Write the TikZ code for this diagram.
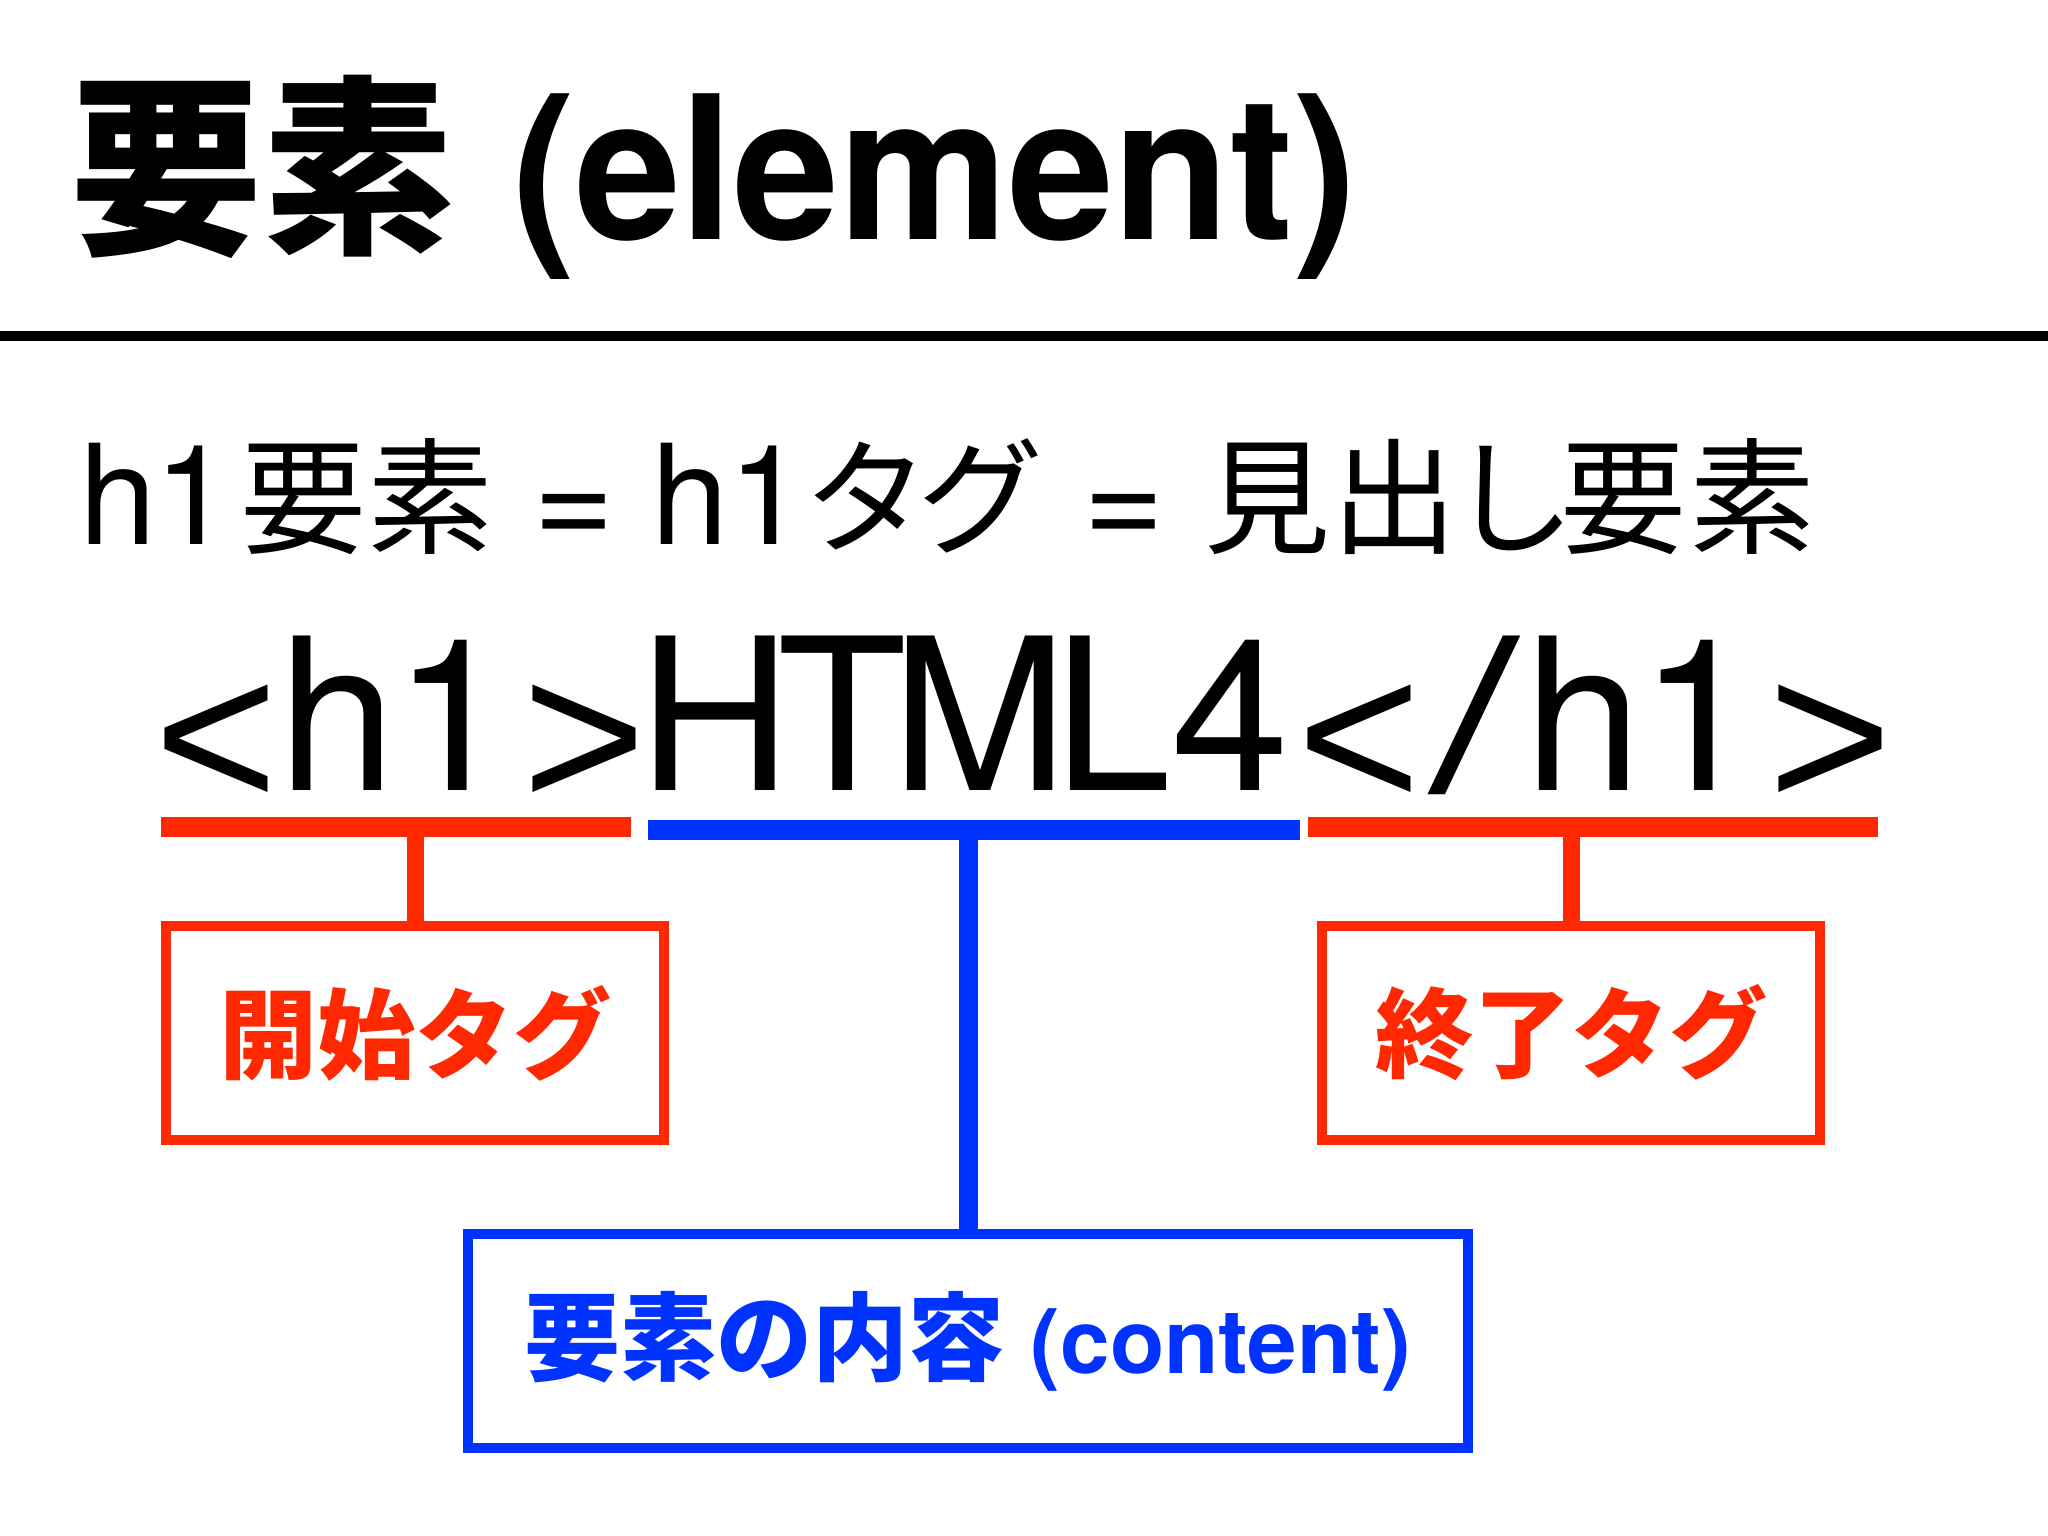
\documentclass[tikz,border=0pt]{standalone}
\usepackage{graphicx}
\usepackage{fontspec}
\setmainfont{TeX Gyre Heros}
\newfontfamily\lib{Liberation Sans}
\newfontfamily\cjk{Noto Sans CJK JP}
\definecolor{tagred}{RGB}{255,40,0}
\definecolor{conblue}{RGB}{0,51,255}
\newcommand\gl[2]{\makebox[0pt][c]{#1}\hspace*{#2pt}}
\newcommand\fs[1]{\fontsize{#1}{#1}\selectfont}
\newcommand\lw[1]{\raisebox{-18pt}{\lib #1}}
\begin{document}
\begin{tikzpicture}[x=1pt,y=-1pt,
  every node/.style={inner sep=0pt, outer sep=0pt},
  tagbox/.style={draw=tagred, line width=10pt, minimum width=498pt, minimum height=214pt, text=tagred},
  conbox/.style={draw=conblue, line width=10pt, minimum width=1000pt, minimum height=214pt, text=conblue},
  redbar/.style={fill=tagred, minimum height=20pt},
  bluebar/.style={fill=conblue, minimum height=20pt},
  redstem/.style={draw=tagred, line width=17pt},
  bluestem/.style={draw=conblue, line width=19pt},
]
\useasboundingbox (0,0) rectangle (2048,1536);
\fill[white] (0,0) rectangle (2048,1536);

% title
\node[anchor=base west] (title) at (70,239) {{\cjk\bfseries\fs{192}要素}\hspace*{58pt}{\fs{200}\bfseries\scalebox{0.95}[1]{(element)}}};
\draw[line width=10pt] (0,336) -- (2048,336);

% equivalence line
\node[anchor=base west] (equiv) at (118,544) {\fs{139}\gl{h}{75.5}\gl{1}{110}{\cjk\fs{126}\gl{要}{127.5}\gl{素}{143}}\gl{\raisebox{-2pt}{=}}{116}\gl{h}{77.5}\gl{1}{99}{\cjk\fs{126}\gl{タ}{114}\gl{グ}{143.5}}\gl{\raisebox{-2pt}{=}}{143}{\cjk\fs{126}\gl{見}{128}\gl{出}{117}\gl{し}{111.5}\gl{要}{129}\gl{素}{0}}};

% code line
\node[anchor=base west] (code) at (216.5,790) {\fs{212}\gl{\lw{<}}{120.5}\gl{h}{115}\gl{1}{132}\gl{\lw{>}}{131.5}\gl{H}{127}\gl{T}{137}\gl{M}{132.5}\gl{L}{119}\gl{4}{128.5}\gl{\lw{<}}{115.5}\gl{\scalebox{1.5}[1]{/}}{108.5}\gl{h}{114.5}\gl{1}{132.5}\gl{\lw{>}}{0}};

% boxes
\node[tagbox] (stag) at (415,1033) {\cjk\bfseries\fs{98}開始タグ};
\node[tagbox] (etag) at (1571,1033) {\cjk\bfseries\fs{98}終了タグ};
\node[conbox] (cont) at (968,1341) {{\cjk\bfseries\fs{96}要素の内容}\hspace*{26pt}{\bfseries\fs{89}(content)}};

% bars
\node[redbar, minimum width=470pt] (sbar) at (396,827) {};
\node[bluebar, minimum width=652pt] (cbar) at (974,830) {};
\node[redbar, minimum width=570pt] (ebar) at (1593,827) {};

% stems
\draw[redstem] (stag.north) -- (stag.north |- sbar.center);
\draw[bluestem] (cont.north) -- (cont.north |- cbar.center);
\draw[redstem] (etag.north) -- (etag.north |- ebar.center);
\end{tikzpicture}
\end{document}
